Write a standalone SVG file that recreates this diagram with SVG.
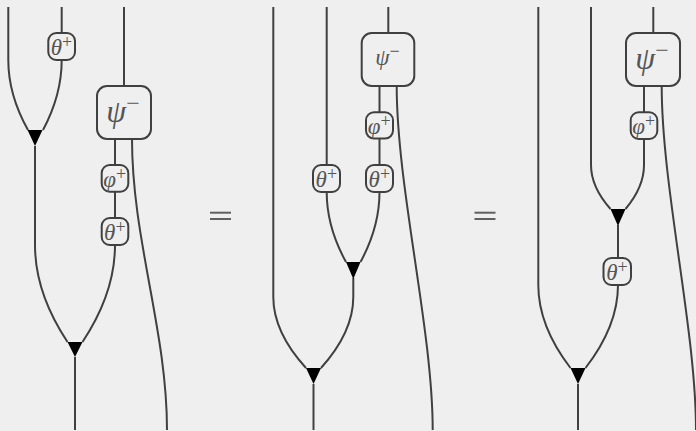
<svg xmlns="http://www.w3.org/2000/svg" width="696" height="431" viewBox="0 0 696 431">
<style>
.w{fill:none;stroke:#404040;stroke-width:2}
.b{fill:#efefef;stroke:#404040;stroke-width:2}
.t{fill:#000;stroke:none}
.l{font-family:"Liberation Serif","DejaVu Serif",serif;fill:#555;text-anchor:middle}
.s{font-size:23px}
.g{font-style:italic}
.p{font-size:18px}
.eq{stroke:#606060;stroke-width:2}
</style>
<rect width="696" height="431" fill="#efefef"/>
<g id="connectors">
<path class="w" d="M8.3 7 V60 Q8.3 95 28 130"/>
<path class="w" d="M61.7 7 V33 M61.7 60 Q61.7 95 43 130"/>
<path class="w" d="M35 146 V245 Q35 293 67.5 342"/>
<path class="w" d="M115 139 V245 Q115 293 82.5 342"/>
<path class="w" d="M75 357 V430"/>
<path class="w" d="M124 7 V86"/>
<path class="w" d="M132 139 C132 240 167 330 167 430"/>
<path class="w" d="M273.3 7 V297 Q273.3 332 306 368"/>
<path class="w" d="M326.7 7 V192 Q326.7 227 346 262"/>
<path class="w" d="M379.5 86 V192 Q379.5 227 360.5 262"/>
<path class="w" d="M353.3 278 V297 Q353.3 332 321 368"/>
<path class="w" d="M313.5 384 V430"/>
<path class="w" d="M388.3 7 V33"/>
<path class="w" d="M396.7 86 C396.7 187 432.7 330 432.7 430"/>
<path class="w" d="M538.3 7 V285 Q538.3 326 570.5 368"/>
<path class="w" d="M591 7 V165 Q591 187 610.5 209"/>
<path class="w" d="M644 86 V165 Q644 187 625.5 209"/>
<path class="w" d="M618 225 V285 Q618 326 585.5 368"/>
<path class="w" d="M578 384 V430"/>
<path class="w" d="M653.3 7 V33"/>
<path class="w" d="M661.7 86 C661.7 187 696 330 696 430"/>
</g>
<g id="eq1"><line class="eq" x1="210" y1="212.7" x2="231" y2="212.7"/><line class="eq" x1="210" y1="219" x2="231" y2="219"/></g>
<g id="eq2"><line class="eq" x1="474.5" y1="212.7" x2="495.5" y2="212.7"/><line class="eq" x1="474.5" y1="219" x2="495.5" y2="219"/></g>
<g id="tri1a"><polygon class="t" points="27.5,130 42.5,130 35,146"/></g>
<g id="tri1b"><polygon class="t" points="67.5,342 82.5,342 75,357"/></g>
<g id="tri2a"><polygon class="t" points="346,262 360.5,262 353.3,279"/></g>
<g id="tri2b"><polygon class="t" points="306,368 321,368 313.5,384"/></g>
<g id="tri3a"><polygon class="t" points="610.5,209 625.5,209 618,226"/></g>
<g id="tri3b"><polygon class="t" points="570.5,368 585.5,368 578,384"/></g>
<g id="theta1a"><rect class="b" x="48.3" y="33" width="26.7" height="27" rx="8"/><text class="l s" x="61.5" y="55"><tspan class="g">θ</tspan><tspan class="p" dy="-7">+</tspan></text></g>
<g id="psi1"><rect class="b" x="97" y="86" width="54" height="53" rx="10"/><text class="l" x="123" y="122" font-size="32"><tspan class="g">ψ</tspan><tspan font-size="24" dy="-11">−</tspan></text></g>
<g id="phi1"><rect class="b" x="101.7" y="165" width="26.6" height="26.7" rx="8"/><text class="l s" x="114.8" y="187"><tspan class="g">φ</tspan><tspan class="p" dy="-7">+</tspan></text></g>
<g id="theta1b"><rect class="b" x="101.7" y="218" width="26.6" height="27" rx="8"/><text class="l s" x="114.8" y="240"><tspan class="g">θ</tspan><tspan class="p" dy="-7">+</tspan></text></g>
<g id="psi2"><rect class="b" x="361.7" y="33" width="52.6" height="53" rx="10"/><text class="l" x="387.5" y="65" font-size="23"><tspan class="g">ψ</tspan><tspan font-size="18" dy="-8">−</tspan></text></g>
<g id="phi2"><rect class="b" x="366" y="112.3" width="27" height="26.3" rx="8"/><text class="l s" x="379.3" y="134"><tspan class="g">φ</tspan><tspan class="p" dy="-7">+</tspan></text></g>
<g id="theta2a"><rect class="b" x="313" y="165" width="27" height="27" rx="8"/><text class="l s" x="326.3" y="187"><tspan class="g">θ</tspan><tspan class="p" dy="-7">+</tspan></text></g>
<g id="theta2b"><rect class="b" x="366" y="165" width="27" height="27" rx="8"/><text class="l s" x="379.3" y="187"><tspan class="g">θ</tspan><tspan class="p" dy="-7">+</tspan></text></g>
<g id="psi3"><rect class="b" x="626" y="33" width="54" height="53" rx="10"/><text class="l" x="652" y="69" font-size="32"><tspan class="g">ψ</tspan><tspan font-size="24" dy="-11">−</tspan></text></g>
<g id="phi3"><rect class="b" x="630.7" y="112.3" width="26.6" height="26.7" rx="8"/><text class="l s" x="643.8" y="134"><tspan class="g">φ</tspan><tspan class="p" dy="-7">+</tspan></text></g>
<g id="theta3"><rect class="b" x="603.5" y="258" width="27.5" height="27" rx="8"/><text class="l s" x="617" y="280"><tspan class="g">θ</tspan><tspan class="p" dy="-7">+</tspan></text></g>
</svg>
